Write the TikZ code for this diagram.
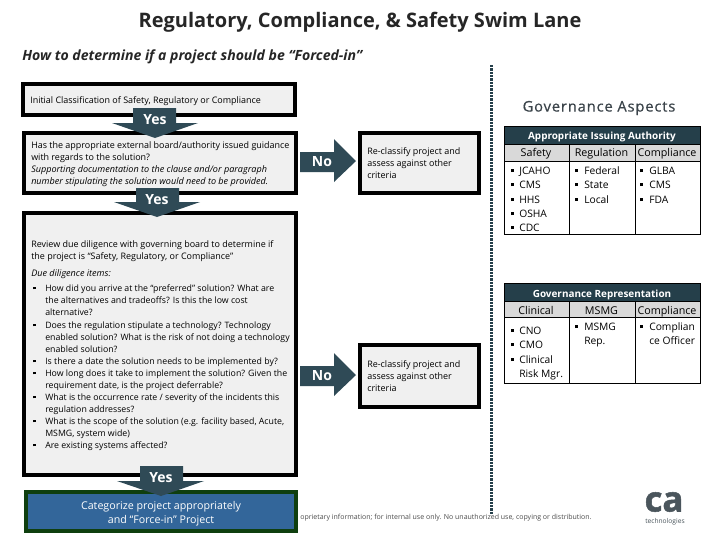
\documentclass[tikz,border=0pt]{standalone}
\usepackage{fontspec}
\setmainfont{Open Sans}
\definecolor{arrowc}{HTML}{2F4A56}
\definecolor{headc}{HTML}{253F4A}
\definecolor{subc}{HTML}{D9D9D9}
\definecolor{boxc}{HTML}{F0F0F0}
\definecolor{bluec}{HTML}{33669A}
\definecolor{greenc}{HTML}{0F3F0F}
\definecolor{grayc}{HTML}{4A555C}
\newcommand{\bsq}{\rule[0.18em]{0.28em}{0.28em}}
\tikzset{x=0.75pt,y=-0.75pt,
 boxs/.style={draw=black,line width=3pt,fill=boxc,inner sep=0pt},
 arr/.style={fill=arrowc,draw=none},
 arrlab/.style={text=white,font=\fontsize{10.5}{12}\selectfont\bfseries,inner sep=0pt},
 body/.style={anchor=base west,inner sep=0pt,font=\fontsize{6.72}{9}\selectfont},
 bodyl/.style={anchor=base west,inner sep=0pt,font=\fontsize{6.58}{9}\selectfont},
 bodyi/.style={anchor=base west,inner sep=0pt,font=\fontsize{6.8}{9}\selectfont\itshape},
 tab/.style={anchor=base west,inner sep=0pt,font=\fontsize{7.7}{9}\selectfont},
 tabc/.style={anchor=base,inner sep=0pt,font=\fontsize{8.05}{9}\selectfont},
 tabh/.style={anchor=base,inner sep=0pt,text=white,font=\fontsize{7.45}{9}\selectfont\bfseries},
 cell/.style={draw=black,line width=0.75pt},
}
\newcommand{\tr}[4]{\node[tab] at (#1,#2) {\bsq}; \node[tab] at (#3,#2) {#4};}
\newcommand{\bl}[2]{\node[bodyl] at (33,#1) {\bsq}; \node[bodyl] at (45,#1) {#2};}
\begin{document}
\begin{tikzpicture}
\useasboundingbox (0,0) rectangle (720,540);
\fill[white] (0,0) rectangle (720,540);
\node[inner sep=0pt,text=black!85,font=\fontsize{15}{16}\selectfont\bfseries] (title) at (360,22) {Regulatory, Compliance, \& Safety Swim Lane};
\node[anchor=base west,inner sep=0pt,text=black!85,font=\fontsize{10.55}{12}\selectfont\bfseries\itshape] (sub) at (22,60) {How to determine if a project should be “Forced-in”};

% boxes
\node[boxs,minimum width=204pt,minimum height=23.25pt,anchor=north west] (b1) at (21,82) {};
\node[boxs,minimum width=204pt,minimum height=45pt,anchor=north west] (b2) at (22,131) {};
\node[boxs,minimum width=204pt,minimum height=196.5pt,anchor=north west] (b3) at (22,211) {};
\node[draw=greenc,line width=3pt,fill=bluec,inner sep=0pt,minimum width=202.5pt,minimum height=29.25pt,anchor=north west] (b4) at (24,490) {};
\node[boxs,minimum width=89.25pt,minimum height=45pt,anchor=north west] (r1) at (358,131) {};
\node[boxs,minimum width=89.25pt,minimum height=46.5pt,anchor=north west] (r2) at (358,343) {};

% box text
\node[body] at (30,103) {Initial Classification of Safety, Regulatory or Compliance};
\node[body] at (31,148) {Has the appropriate external board/authority issued guidance};
\node[body] at (31,160) {with regards to the solution?};
\node[bodyi] at (31,172) {Supporting documentation to the clause and/or paragraph};
\node[bodyi] at (31,184) {number stipulating the solution would need to be provided.};
\node[body] at (31,247) {Review due diligence with governing board to determine if};
\node[body] at (31,259) {the project is “Safety, Regulatory, or Compliance”};
\node[bodyi] at (31,276) {Due diligence items:};
\bl{291}{How did you arrive at the “preferred” solution? What are}
\node[bodyl] at (45,303) {the alternatives and tradeoffs? Is this the low cost};
\node[bodyl] at (45,315) {alternative?};
\bl{328}{Does the regulation stipulate a technology? Technology}
\node[bodyl] at (45,340) {enabled solution? What is the risk of not doing a technology};
\node[bodyl] at (45,352) {enabled solution?};
\bl{364}{Is there a date the solution needs to be implemented by?}
\bl{376}{How long does it take to implement the solution? Given the}
\node[bodyl] at (45,388) {requirement date, is the project deferrable?};
\bl{400}{What is the occurrence rate / severity of the incidents this}
\node[bodyl] at (45,412) {regulation addresses?};
\bl{424}{What is the scope of the solution (e.g. facility based, Acute,}
\node[bodyl] at (45,436) {MSMG, system wide)};
\bl{448}{Are existing systems affected?}

\node[body] at (367,154) {Re-classify project and};
\node[body] at (367,166) {assess against other};
\node[body] at (367,178) {criteria};
\node[body] at (367,367) {Re-classify project and};
\node[body] at (367,379) {assess against other};
\node[body] at (367,391) {criteria};

\node[inner sep=0pt,text=white,align=center,font=\fontsize{8}{10.5}\selectfont] (b4t) at (161,513.5) {Categorize project appropriately\\and “Force-in” Project};

% down arrows
\fill[arr] (133,108) -- (176,108) -- (176,123) -- (198,123) -- (155,138) -- (112,123) -- (133,123) -- cycle;
\node[arrlab] (y1) at (155,119.5) {Yes};
\fill[arr] (136,188) -- (179,188) -- (179,202) -- (200,202) -- (157,217) -- (114,202) -- (136,202) -- cycle;
\node[arrlab] (y2) at (157,199.5) {Yes};
\fill[arr] (140,466) -- (183,466) -- (183,481) -- (204,481) -- (161,496) -- (117,481) -- (140,481) -- cycle;
\node[arrlab] (y3) at (161,477.5) {Yes};

% right arrows
\fill[arr] (300,152) -- (334,152) -- (334,139) -- (356,161) -- (334,182) -- (334,172) -- (300,172) -- cycle;
\node[arrlab] (n1) at (322,161.5) {No};
\fill[arr] (300,366) -- (334,366) -- (334,353) -- (356,375) -- (334,396) -- (334,386) -- (300,386) -- cycle;
\node[arrlab] (n2) at (322,375.5) {No};

% footer
\node[anchor=base west,inner sep=0pt,text=black!70,font=\fontsize{5.25}{6}\selectfont] (foot) at (300,519.5) {oprietary information; for internal use only. No unauthorized use, copying or distribution.};

% divider
\coordinate (d1) at (491.5,65);
\coordinate (d2) at (491.5,515);
\draw[headc,line width=2.6pt,dash pattern=on 1.8pt off 0.7pt] (d1) -- (d2);

% governance aspects
\node[inner sep=0pt,text=grayc!80!black,font=\fontsize{11}{12}\selectfont] (ga) at (599,108) {\addfontfeature{LetterSpace=6,FakeBold=0.6}Governance Aspects};

% table 1
\fill[headc] (504,126) rectangle (700,144);
\fill[subc] (504,144) rectangle (700,161);
\draw[cell] (504,126) rectangle (700,234);
\draw[cell] (504,144) -- (700,144);
\draw[cell] (504,161) -- (700,161);
\draw[cell] (569,144) -- (569,234);
\draw[cell] (635,144) -- (635,234);
\node[tabh] (h1) at (602,139) {Appropriate Issuing Authority};
\node[tabc] at (536,156) {Safety};
\node[tabc] at (601.5,156) {Regulation};
\node[tabc] at (667,156) {Compliance};
\tr{511}{174}{519}{JCAHO}
\tr{511}{188}{519}{CMS}
\tr{511}{203}{519}{HHS}
\tr{511}{217}{519}{OSHA}
\tr{511}{231}{519}{CDC}
\tr{575}{174}{584}{Federal}
\tr{575}{188}{584}{State}
\tr{575}{203}{584}{Local}
\tr{640}{174}{649}{GLBA}
\tr{640}{188}{649}{CMS}
\tr{640}{203}{649}{FDA}

% table 2
\fill[headc] (504,283) rectangle (700,301);
\fill[subc] (504,301) rectangle (700,317);
\draw[cell] (504,283) rectangle (700,383);
\draw[cell] (504,301) -- (700,301);
\draw[cell] (504,317) -- (700,317);
\draw[cell] (569,301) -- (569,383);
\draw[cell] (635,301) -- (635,383);
\node[tabh] (h2) at (602,297) {Governance Representation};
\node[tabc] at (536,314) {Clinical};
\node[tabc] at (601.5,314) {MSMG};
\node[tabc] at (667,314) {Compliance};
\tr{511}{334}{519}{CNO}
\tr{511}{348}{519}{CMO}
\tr{511}{363}{519}{Clinical}
\node[tab] at (519,377) {Risk Mgr.};
\tr{575}{330}{584}{MSMG}
\node[tab] at (584,344) {Rep.};
\tr{640}{330}{649}{Complian}
\node[tab] at (649,344) {ce Officer};

% logo
\node[inner sep=0pt,text=grayc,font=\fontsize{26}{26}\selectfont\bfseries] (ca) at (664,502) {\addfontfeature{FakeBold=1.5}ca};
\node[inner sep=0pt,text=grayc,font=\fontsize{5}{6}\selectfont] (tech) at (665,522) {technologies};
\end{tikzpicture}
\end{document}
